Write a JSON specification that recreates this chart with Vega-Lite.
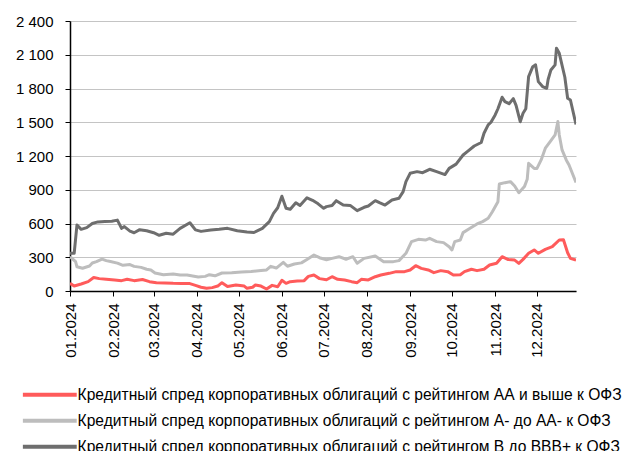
{
  "$schema": "https://vega.github.io/schema/vega-lite/v6.json",
  "width": 506,
  "height": 270,
  "autosize": {"type": "none"},
  "padding": {"left": 70, "top": 21, "right": 51, "bottom": 160},
  "background": "white",
  "view": {"stroke": null},
  "config": {
    "font": "Liberation Sans",
    "axis": {"labelColor": "#000", "domainColor": "#000", "tickColor": "#000", "labelFont": "Liberation Sans", "labelFontSize": 15, "titleFontSize": 0}
  },
  "data": {"values": [
    {"d":"2024-01-01","v":335,"s":"c"},{"d":"2024-01-04","v":335,"s":"c"},{"d":"2024-01-06","v":587,"s":"c"},{"d":"2024-01-09","v":548,"s":"c"},{"d":"2024-01-13","v":563,"s":"c"},{"d":"2024-01-17","v":600,"s":"c"},{"d":"2024-01-21","v":614,"s":"c"},{"d":"2024-01-26","v":617,"s":"c"},{"d":"2024-01-31","v":620,"s":"c"},{"d":"2024-02-04","v":630,"s":"c"},{"d":"2024-02-07","v":557,"s":"c"},{"d":"2024-02-09","v":572,"s":"c"},{"d":"2024-02-13","v":532,"s":"c"},{"d":"2024-02-16","v":518,"s":"c"},{"d":"2024-02-20","v":545,"s":"c"},{"d":"2024-02-25","v":536,"s":"c"},{"d":"2024-03-01","v":518,"s":"c"},{"d":"2024-03-05","v":495,"s":"c"},{"d":"2024-03-10","v":513,"s":"c"},{"d":"2024-03-15","v":505,"s":"c"},{"d":"2024-03-20","v":557,"s":"c"},{"d":"2024-03-27","v":607,"s":"c"},{"d":"2024-03-31","v":543,"s":"c"},{"d":"2024-04-04","v":530,"s":"c"},{"d":"2024-04-11","v":542,"s":"c"},{"d":"2024-04-17","v":548,"s":"c"},{"d":"2024-04-23","v":557,"s":"c"},{"d":"2024-04-30","v":536,"s":"c"},{"d":"2024-05-07","v":525,"s":"c"},{"d":"2024-05-12","v":520,"s":"c"},{"d":"2024-05-18","v":557,"s":"c"},{"d":"2024-05-23","v":617,"s":"c"},{"d":"2024-05-26","v":690,"s":"c"},{"d":"2024-05-29","v":740,"s":"c"},{"d":"2024-06-01","v":842,"s":"c"},{"d":"2024-06-04","v":735,"s":"c"},{"d":"2024-06-07","v":726,"s":"c"},{"d":"2024-06-11","v":785,"s":"c"},{"d":"2024-06-14","v":760,"s":"c"},{"d":"2024-06-19","v":828,"s":"c"},{"d":"2024-06-23","v":806,"s":"c"},{"d":"2024-06-27","v":775,"s":"c"},{"d":"2024-07-01","v":735,"s":"c"},{"d":"2024-07-03","v":750,"s":"c"},{"d":"2024-07-07","v":760,"s":"c"},{"d":"2024-07-10","v":803,"s":"c"},{"d":"2024-07-15","v":764,"s":"c"},{"d":"2024-07-20","v":761,"s":"c"},{"d":"2024-07-25","v":714,"s":"c"},{"d":"2024-07-30","v":744,"s":"c"},{"d":"2024-08-02","v":756,"s":"c"},{"d":"2024-08-07","v":803,"s":"c"},{"d":"2024-08-10","v":785,"s":"c"},{"d":"2024-08-14","v":764,"s":"c"},{"d":"2024-08-19","v":809,"s":"c"},{"d":"2024-08-24","v":824,"s":"c"},{"d":"2024-08-27","v":883,"s":"c"},{"d":"2024-08-29","v":972,"s":"c"},{"d":"2024-09-01","v":1046,"s":"c"},{"d":"2024-09-06","v":1061,"s":"c"},{"d":"2024-09-10","v":1052,"s":"c"},{"d":"2024-09-15","v":1082,"s":"c"},{"d":"2024-09-20","v":1061,"s":"c"},{"d":"2024-09-26","v":1035,"s":"c"},{"d":"2024-09-29","v":1090,"s":"c"},{"d":"2024-10-04","v":1128,"s":"c"},{"d":"2024-10-09","v":1209,"s":"c"},{"d":"2024-10-12","v":1239,"s":"c"},{"d":"2024-10-17","v":1289,"s":"c"},{"d":"2024-10-22","v":1320,"s":"c"},{"d":"2024-10-24","v":1402,"s":"c"},{"d":"2024-10-27","v":1476,"s":"c"},{"d":"2024-10-29","v":1500,"s":"c"},{"d":"2024-11-01","v":1565,"s":"c"},{"d":"2024-11-03","v":1620,"s":"c"},{"d":"2024-11-06","v":1722,"s":"c"},{"d":"2024-11-08","v":1683,"s":"c"},{"d":"2024-11-11","v":1665,"s":"c"},{"d":"2024-11-14","v":1710,"s":"c"},{"d":"2024-11-16","v":1650,"s":"c"},{"d":"2024-11-19","v":1505,"s":"c"},{"d":"2024-11-21","v":1580,"s":"c"},{"d":"2024-11-23","v":1620,"s":"c"},{"d":"2024-11-25","v":1906,"s":"c"},{"d":"2024-11-28","v":1994,"s":"c"},{"d":"2024-11-30","v":2010,"s":"c"},{"d":"2024-12-02","v":1861,"s":"c"},{"d":"2024-12-05","v":1817,"s":"c"},{"d":"2024-12-08","v":1802,"s":"c"},{"d":"2024-12-09","v":1880,"s":"c"},{"d":"2024-12-11","v":1965,"s":"c"},{"d":"2024-12-14","v":2010,"s":"c"},{"d":"2024-12-15","v":2158,"s":"c"},{"d":"2024-12-17","v":2113,"s":"c"},{"d":"2024-12-21","v":1900,"s":"c"},{"d":"2024-12-23","v":1713,"s":"c"},{"d":"2024-12-25","v":1698,"s":"c"},{"d":"2024-12-29","v":1480,"s":"c"},

    {"d":"2024-01-01","v":305,"s":"b"},{"d":"2024-01-05","v":261,"s":"b"},{"d":"2024-01-06","v":215,"s":"b"},{"d":"2024-01-10","v":202,"s":"b"},{"d":"2024-01-15","v":222,"s":"b"},{"d":"2024-01-17","v":249,"s":"b"},{"d":"2024-01-20","v":261,"s":"b"},{"d":"2024-01-24","v":284,"s":"b"},{"d":"2024-01-27","v":270,"s":"b"},{"d":"2024-01-30","v":262,"s":"b"},{"d":"2024-02-04","v":248,"s":"b"},{"d":"2024-02-08","v":228,"s":"b"},{"d":"2024-02-13","v":235,"s":"b"},{"d":"2024-02-16","v":219,"s":"b"},{"d":"2024-02-21","v":210,"s":"b"},{"d":"2024-02-25","v":193,"s":"b"},{"d":"2024-02-28","v":187,"s":"b"},{"d":"2024-03-02","v":160,"s":"b"},{"d":"2024-03-08","v":145,"s":"b"},{"d":"2024-03-15","v":152,"s":"b"},{"d":"2024-03-20","v":142,"s":"b"},{"d":"2024-03-25","v":142,"s":"b"},{"d":"2024-03-29","v":133,"s":"b"},{"d":"2024-04-02","v":125,"s":"b"},{"d":"2024-04-07","v":130,"s":"b"},{"d":"2024-04-10","v":145,"s":"b"},{"d":"2024-04-14","v":135,"s":"b"},{"d":"2024-04-19","v":160,"s":"b"},{"d":"2024-04-26","v":162,"s":"b"},{"d":"2024-05-03","v":168,"s":"b"},{"d":"2024-05-10","v":173,"s":"b"},{"d":"2024-05-17","v":182,"s":"b"},{"d":"2024-05-21","v":187,"s":"b"},{"d":"2024-05-24","v":219,"s":"b"},{"d":"2024-05-28","v":204,"s":"b"},{"d":"2024-06-02","v":255,"s":"b"},{"d":"2024-06-05","v":220,"s":"b"},{"d":"2024-06-10","v":240,"s":"b"},{"d":"2024-06-15","v":250,"s":"b"},{"d":"2024-06-19","v":280,"s":"b"},{"d":"2024-06-24","v":320,"s":"b"},{"d":"2024-06-28","v":296,"s":"b"},{"d":"2024-07-03","v":278,"s":"b"},{"d":"2024-07-07","v":290,"s":"b"},{"d":"2024-07-12","v":305,"s":"b"},{"d":"2024-07-17","v":282,"s":"b"},{"d":"2024-07-22","v":305,"s":"b"},{"d":"2024-07-25","v":246,"s":"b"},{"d":"2024-07-30","v":290,"s":"b"},{"d":"2024-08-07","v":311,"s":"b"},{"d":"2024-08-13","v":261,"s":"b"},{"d":"2024-08-20","v":261,"s":"b"},{"d":"2024-08-24","v":270,"s":"b"},{"d":"2024-08-29","v":335,"s":"b"},{"d":"2024-09-02","v":439,"s":"b"},{"d":"2024-09-07","v":459,"s":"b"},{"d":"2024-09-12","v":453,"s":"b"},{"d":"2024-09-15","v":468,"s":"b"},{"d":"2024-09-20","v":439,"s":"b"},{"d":"2024-09-25","v":430,"s":"b"},{"d":"2024-09-29","v":394,"s":"b"},{"d":"2024-10-01","v":365,"s":"b"},{"d":"2024-10-03","v":439,"s":"b"},{"d":"2024-10-07","v":453,"s":"b"},{"d":"2024-10-09","v":519,"s":"b"},{"d":"2024-10-14","v":557,"s":"b"},{"d":"2024-10-19","v":596,"s":"b"},{"d":"2024-10-23","v":617,"s":"b"},{"d":"2024-10-27","v":646,"s":"b"},{"d":"2024-10-30","v":705,"s":"b"},{"d":"2024-11-03","v":794,"s":"b"},{"d":"2024-11-04","v":951,"s":"b"},{"d":"2024-11-08","v":963,"s":"b"},{"d":"2024-11-12","v":972,"s":"b"},{"d":"2024-11-15","v":934,"s":"b"},{"d":"2024-11-18","v":874,"s":"b"},{"d":"2024-11-22","v":928,"s":"b"},{"d":"2024-11-24","v":993,"s":"b"},{"d":"2024-11-25","v":1135,"s":"b"},{"d":"2024-11-29","v":1090,"s":"b"},{"d":"2024-12-01","v":1090,"s":"b"},{"d":"2024-12-04","v":1165,"s":"b"},{"d":"2024-12-07","v":1269,"s":"b"},{"d":"2024-12-11","v":1337,"s":"b"},{"d":"2024-12-14","v":1387,"s":"b"},{"d":"2024-12-16","v":1506,"s":"b"},{"d":"2024-12-17","v":1387,"s":"b"},{"d":"2024-12-19","v":1254,"s":"b"},{"d":"2024-12-22","v":1165,"s":"b"},{"d":"2024-12-24","v":1120,"s":"b"},{"d":"2024-12-29","v":965,"s":"b"},

    {"d":"2024-01-01","v":68,"s":"a"},{"d":"2024-01-04","v":44,"s":"a"},{"d":"2024-01-09","v":62,"s":"a"},{"d":"2024-01-14","v":83,"s":"a"},{"d":"2024-01-18","v":120,"s":"a"},{"d":"2024-01-22","v":110,"s":"a"},{"d":"2024-01-27","v":104,"s":"a"},{"d":"2024-02-02","v":98,"s":"a"},{"d":"2024-02-07","v":92,"s":"a"},{"d":"2024-02-11","v":104,"s":"a"},{"d":"2024-02-16","v":92,"s":"a"},{"d":"2024-02-22","v":102,"s":"a"},{"d":"2024-02-27","v":83,"s":"a"},{"d":"2024-03-03","v":74,"s":"a"},{"d":"2024-03-09","v":72,"s":"a"},{"d":"2024-03-15","v":68,"s":"a"},{"d":"2024-03-21","v":66,"s":"a"},{"d":"2024-03-27","v":66,"s":"a"},{"d":"2024-03-31","v":50,"s":"a"},{"d":"2024-04-04","v":33,"s":"a"},{"d":"2024-04-08","v":24,"s":"a"},{"d":"2024-04-12","v":30,"s":"a"},{"d":"2024-04-16","v":44,"s":"a"},{"d":"2024-04-19","v":74,"s":"a"},{"d":"2024-04-23","v":40,"s":"a"},{"d":"2024-04-29","v":53,"s":"a"},{"d":"2024-05-05","v":44,"s":"a"},{"d":"2024-05-07","v":24,"s":"a"},{"d":"2024-05-11","v":33,"s":"a"},{"d":"2024-05-13","v":53,"s":"a"},{"d":"2024-05-17","v":44,"s":"a"},{"d":"2024-05-21","v":18,"s":"a"},{"d":"2024-05-25","v":50,"s":"a"},{"d":"2024-05-29","v":38,"s":"a"},{"d":"2024-06-01","v":95,"s":"a"},{"d":"2024-06-04","v":68,"s":"a"},{"d":"2024-06-07","v":83,"s":"a"},{"d":"2024-06-12","v":88,"s":"a"},{"d":"2024-06-17","v":92,"s":"a"},{"d":"2024-06-20","v":130,"s":"a"},{"d":"2024-06-24","v":142,"s":"a"},{"d":"2024-06-28","v":110,"s":"a"},{"d":"2024-07-03","v":100,"s":"a"},{"d":"2024-07-07","v":127,"s":"a"},{"d":"2024-07-11","v":104,"s":"a"},{"d":"2024-07-16","v":98,"s":"a"},{"d":"2024-07-21","v":83,"s":"a"},{"d":"2024-07-25","v":74,"s":"a"},{"d":"2024-07-28","v":104,"s":"a"},{"d":"2024-08-02","v":98,"s":"a"},{"d":"2024-08-07","v":127,"s":"a"},{"d":"2024-08-11","v":142,"s":"a"},{"d":"2024-08-17","v":157,"s":"a"},{"d":"2024-08-22","v":172,"s":"a"},{"d":"2024-08-28","v":172,"s":"a"},{"d":"2024-09-01","v":187,"s":"a"},{"d":"2024-09-05","v":225,"s":"a"},{"d":"2024-09-09","v":201,"s":"a"},{"d":"2024-09-14","v":187,"s":"a"},{"d":"2024-09-18","v":163,"s":"a"},{"d":"2024-09-23","v":181,"s":"a"},{"d":"2024-09-28","v":172,"s":"a"},{"d":"2024-10-02","v":142,"s":"a"},{"d":"2024-10-07","v":145,"s":"a"},{"d":"2024-10-10","v":172,"s":"a"},{"d":"2024-10-15","v":193,"s":"a"},{"d":"2024-10-19","v":181,"s":"a"},{"d":"2024-10-24","v":193,"s":"a"},{"d":"2024-10-28","v":231,"s":"a"},{"d":"2024-11-02","v":246,"s":"a"},{"d":"2024-11-06","v":305,"s":"a"},{"d":"2024-11-10","v":281,"s":"a"},{"d":"2024-11-15","v":275,"s":"a"},{"d":"2024-11-18","v":246,"s":"a"},{"d":"2024-11-21","v":281,"s":"a"},{"d":"2024-11-25","v":335,"s":"a"},{"d":"2024-11-29","v":365,"s":"a"},{"d":"2024-12-02","v":335,"s":"a"},{"d":"2024-12-07","v":370,"s":"a"},{"d":"2024-12-12","v":394,"s":"a"},{"d":"2024-12-17","v":453,"s":"a"},{"d":"2024-12-20","v":455,"s":"a"},{"d":"2024-12-23","v":340,"s":"a"},{"d":"2024-12-25","v":290,"s":"a"},{"d":"2024-12-29","v":274,"s":"a"}
  ]},
  "mark": {"type": "line", "strokeWidth": 3, "strokeJoin": "round", "clip": true},
  "encoding": {
    "x": {
      "field": "d", "type": "temporal", "title": null,
      "scale": {"type": "utc", "domain": [{"year": 2024, "month": 1, "date": 1, "utc": true}, {"year": 2024, "month": 12, "date": 29, "utc": true}]},
      "axis": {"format": "%m.%Y", "labelAngle": -90, "tickCount": {"interval": "month", "step": 1}, "grid": false, "tickSize": 5, "labelPadding": 7, "domainWidth": 1.5, "labelFlush": false, "labelOverlap": false}
    },
    "y": {
      "field": "v", "type": "quantitative", "title": null,
      "scale": {"domain": [0, 2400], "nice": false},
      "axis": {"values": [0, 300, 600, 900, 1200, 1500, 1800, 2100, 2400], "labelExpr": "replace(format(datum.value, ','), ',', ' ')", "grid": true, "gridColor": "#c4c4c4", "gridWidth": 1.2, "tickSize": 5, "labelPadding": 12, "domainWidth": 1.5}
    },
    "color": {
      "field": "s", "type": "nominal",
      "scale": {"domain": ["a", "b", "c"], "range": ["#ff5b5b", "#bdbdbd", "#6e6e6e"]},
      "legend": {
        "title": null, "orient": "none", "legendX": -28, "legendY": 366, "direction": "vertical",
        "symbolType": "M-5,0H5", "symbolSize": 116, "symbolStrokeWidth": 4, "symbolFillColor": "transparent",
        "labelFont": "Liberation Sans", "labelFontSize": 15.6, "labelColor": "#000", "labelOffset": 20, "labelLimit": 0, "rowPadding": 8,
        "labelExpr": "datum.value == 'a' ? 'Кредитный спред корпоративных облигаций с рейтингом АА и выше к ОФЗ' : datum.value == 'b' ? 'Кредитный спред корпоративных облигаций с рейтингом А- до АА- к ОФЗ' : 'Кредитный спред корпоративных облигаций с рейтингом B до BBB+ к ОФЗ'"
      }
    }
  }
}
